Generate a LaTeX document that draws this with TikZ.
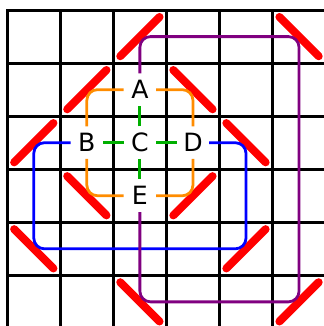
\documentclass[tikz,border=0pt]{standalone}
\usepackage{fontspec}
\setmainfont{DejaVu Sans}
\usepackage{tikz}
\usetikzlibrary{positioning}
\definecolor{wireorange}{RGB}{255,140,0}
\definecolor{wiregreen}{RGB}{0,175,0}
\definecolor{wirepurple}{RGB}{128,0,128}

\begin{document}
\begin{tikzpicture}[
		gridline/.style={black, line width=1.6pt, line cap=rect},
		mirror/.style={red, line width=4.3pt, line cap=round},
		letter/.style={circle, minimum size=0.6cm, inner sep=0pt, font=\fontsize{13.5}{16}\selectfont},
		wire/.style={line width=1.5pt, rounded corners=0.2cm}]
		\useasboundingbox (-0.137, 0.19) rectangle (5.97, -5.955);
		\draw[gridline] (0, 0) grid (6, -6);
		% mirrors, /
		\draw[mirror] (2.13, -0.87) -- (2.87, -0.13);
		\draw[mirror] (1.13, -1.87) -- (1.87, -1.13);
		\draw[mirror] (0.13, -2.87) -- (0.87, -2.13);
		\draw[mirror] (3.13, -3.87) -- (3.87, -3.13);
		\draw[mirror] (4.13, -4.87) -- (4.87, -4.13);
		\draw[mirror] (5.13, -5.87) -- (5.87, -5.13);
		% mirrors, \
		\draw[mirror] (5.13, -0.13) -- (5.87, -0.87);
		\draw[mirror] (3.13, -1.13) -- (3.87, -1.87);
		\draw[mirror] (4.13, -2.13) -- (4.87, -2.87);
		\draw[mirror] (1.13, -3.13) -- (1.87, -3.87);
		\draw[mirror] (0.13, -4.13) -- (0.87, -4.87);
		\draw[mirror] (2.13, -5.13) -- (2.87, -5.87);
		\node[letter] (A) at (2.5, -1.5) {A};
		\node[letter] (B) at (1.5, -2.5) {B};
		\node[letter] (C) at (2.5, -2.5) {C};
		\node[letter] (D) at (3.5, -2.5) {D};
		\node[letter] (E) at (2.5, -3.5) {E};
		\coordinate (blueLow) at (0.5, -4.5);
		\coordinate (blueRight) at (4.5, -2.5);
		\coordinate (purpleTop) at (5.5, -0.5);
		\coordinate (purpleLow) at (2.5, -5.5);
		\draw[wire, wiregreen] (C) -- (A);
		\draw[wire, wiregreen] (C) -- (B);
		\draw[wire, wiregreen] (C) -- (D);
		\draw[wire, wiregreen] (C) -- (E);
		\draw[wire, wireorange] (A) -| (B);
		\draw[wire, wireorange] (A) -| (D);
		\draw[wire, wireorange] (E) -| (B);
		\draw[wire, wireorange] (E) -| (D);
		\draw[wire, blue] (B) -| (blueLow) -| (blueRight) -- (D);
		\draw[wire, wirepurple] (A) |- (purpleTop) |- (purpleLow) -- (E);
	\end{tikzpicture}
\end{document}
